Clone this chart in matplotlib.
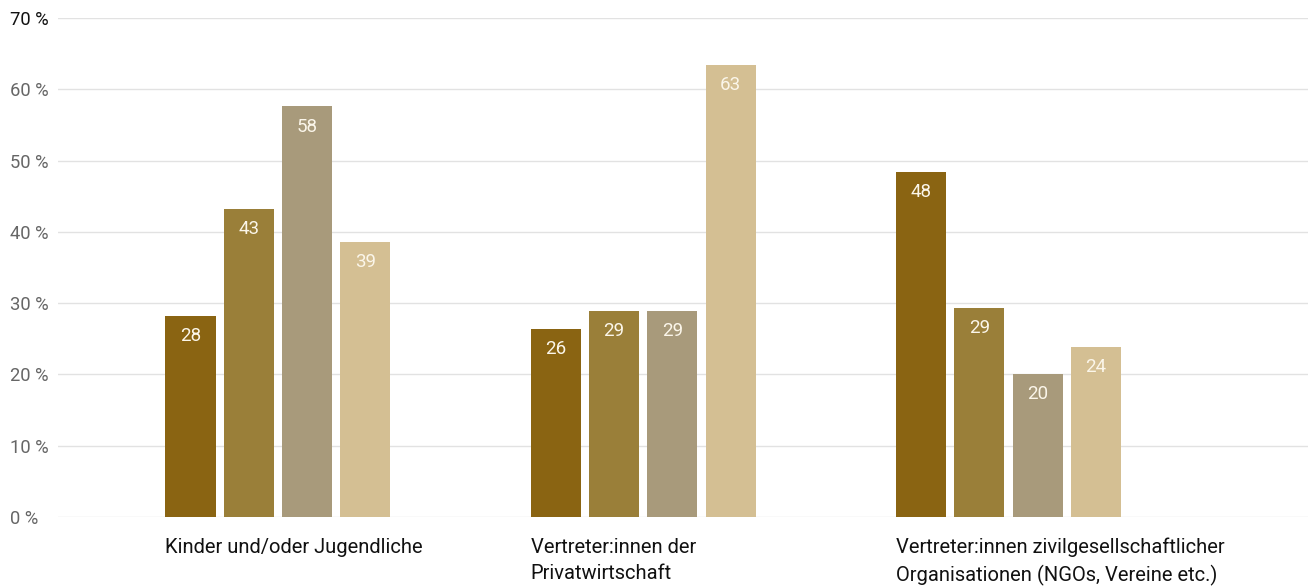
import numpy as np
import matplotlib
matplotlib.use("Agg")
import matplotlib.pyplot as plt
from matplotlib.transforms import blended_transform_factory

plt.rcParams["font.family"] = ["Roboto", "DejaVu Sans"]

categories = [
    "Kinder und/oder Jugendliche",
    "Vertreter:innen der\nPrivatwirtschaft",
    "Vertreter:innen zivilgesellschaftlicher\nOrganisationen (NGOs, Vereine etc.)",
]
series_a = [28.2, 26.4, 48.4]
series_b = [43.2, 28.9, 29.3]
series_c = [57.6, 28.9, 20.1]
series_d = [38.6, 63.4, 23.8]
series = [series_a, series_b, series_c, series_d]
colors = ["#8a6412", "#9a7f39", "#a89a7b", "#d4bf93"]
yticks = [0, 10, 20, 30, 40, 50, 60, 70]

fig = plt.figure(figsize=(13.08, 5.86), dpi=100)
ax = fig.add_axes([58 / 1308, 1 - 517 / 586, 1 - 58 / 1308, (517 - 18) / 586])

x = np.arange(len(categories))
width = 0.137
step = 0.1595
offsets = (np.arange(len(series)) - 1.5) * step
for vals, off, col in zip(series, offsets, colors):
    bars = ax.bar(x + off, vals, width=width, color=col, zorder=2)
    for b, v in zip(bars, vals):
        ax.annotate(f"{v:.0f}", (b.get_x() + b.get_width() / 2, v),
                    xytext=(0, -14.5), textcoords="offset points",
                    ha="center", va="center", color="#fbf6ea", fontsize=13.5)

ax.set_xlim(-0.602, 2.82)
ax.set_ylim(0, 70)
ax.set_yticks(yticks)
ax.set_yticklabels([f"{t} %" for t in yticks])
ax.yaxis.grid(True, color="#e2e2e2", linewidth=1, zorder=0)
ax.tick_params(axis="y", length=0, pad=34.6, labelsize=13.2, labelcolor="#666666")
for lbl in ax.get_yticklabels():
    lbl.set_horizontalalignment("left")
ax.get_yticklabels()[-1].set_color("#111111")
for s in ax.spines.values():
    s.set_visible(False)

ax.set_xticks([])
trans = blended_transform_factory(ax.transData, ax.transAxes)
left_edges = x + offsets[0] - width / 2
for xe, name in zip(left_edges, categories):
    ax.text(xe, -0.042, name, transform=trans, ha="left", va="top",
            fontsize=14.5, color="#111111", linespacing=1.48)

fig.savefig("out.png", dpi=100)
